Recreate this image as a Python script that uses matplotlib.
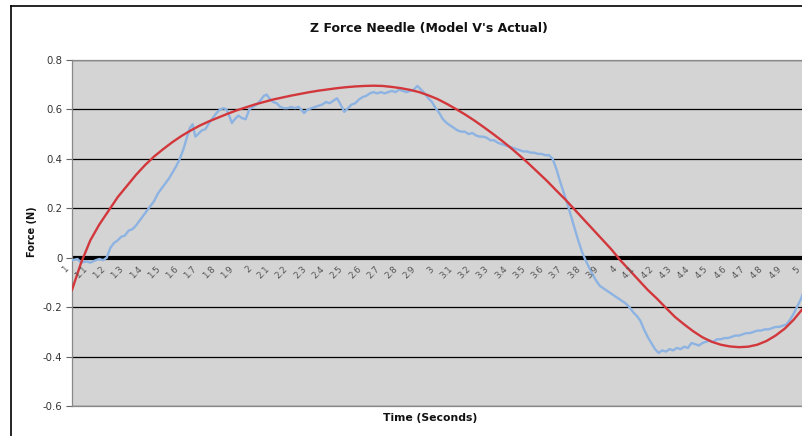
import matplotlib
matplotlib.use("Agg")
import matplotlib.pyplot as plt
from matplotlib.lines import Line2D

# ---------------- data ----------------
title = "Z Force Needle (Model V's Actual)"
x_label = "Time (Seconds)"
y_label = "Force (N)"

time_ticks = [1, 1.1, 1.2, 1.3, 1.4, 1.5, 1.6, 1.7, 1.8, 1.9, 2, 2.1, 2.2, 2.3, 2.4, 2.5,
              2.6, 2.7, 2.8, 2.9, 3, 3.1, 3.2, 3.3, 3.4, 3.5, 3.6, 3.7, 3.8, 3.9, 4, 4.1,
              4.2, 4.3, 4.4, 4.5, 4.6, 4.7, 4.8, 4.9, 5]
time_tick_labels = ["1", "1.1", "1.2", "1.3", "1.4", "1.5", "1.6", "1.7", "1.8", "1.9", "2",
                    "2.1", "2.2", "2.3", "2.4", "2.5", "2.6", "2.7", "2.8", "2.9", "3",
                    "3.1", "3.2", "3.3", "3.4", "3.5", "3.6", "3.7", "3.8", "3.9", "4",
                    "4.1", "4.2", "4.3", "4.4", "4.5", "4.6", "4.7", "4.8", "4.9", "5"]
force_ticks = [-0.6, -0.4, -0.2, 0, 0.2, 0.4, 0.6, 0.8]
force_tick_labels = ["-0.6", "-0.4", "-0.2", "0", "0.2", "0.4", "0.6", "0.8"]

# Model (red)
model_t = [1.00, 1.05, 1.10, 1.15, 1.20, 1.25, 1.30, 1.35, 1.40, 1.45, 1.50, 1.55, 1.60,
           1.65, 1.70, 1.75, 1.80, 1.85, 1.90, 1.95, 2.00, 2.05, 2.10, 2.15, 2.20, 2.25,
           2.30, 2.35, 2.40, 2.45, 2.50, 2.55, 2.60, 2.65, 2.70, 2.75, 2.80, 2.85, 2.90,
           2.95, 3.00, 3.05, 3.10, 3.15, 3.20, 3.25, 3.30, 3.35, 3.40, 3.45, 3.50, 3.55,
           3.60, 3.65, 3.70, 3.75, 3.80, 3.85, 3.90, 3.95, 4.00, 4.05, 4.10, 4.15, 4.20,
           4.25, 4.30, 4.35, 4.40, 4.45, 4.50, 4.55, 4.60, 4.65, 4.70, 4.75, 4.80, 4.85,
           4.90, 4.95, 5.00]
model_force = [-0.13, -0.02, 0.07, 0.135, 0.19, 0.245, 0.29, 0.335, 0.375, 0.41, 0.44,
               0.468, 0.493, 0.515, 0.535, 0.552, 0.567, 0.582, 0.596, 0.608, 0.62, 0.63,
               0.64, 0.648, 0.656, 0.663, 0.67, 0.676, 0.681, 0.686, 0.69, 0.693, 0.695,
               0.696, 0.695, 0.691, 0.686, 0.679, 0.67, 0.657, 0.642, 0.623, 0.602, 0.58,
               0.556, 0.53, 0.503, 0.475, 0.445, 0.413, 0.38, 0.345, 0.31, 0.272, 0.235,
               0.195, 0.155, 0.115, 0.075, 0.035, -0.01, -0.05, -0.09, -0.13, -0.165,
               -0.203, -0.24, -0.27, -0.298, -0.322, -0.34, -0.352, -0.359, -0.362, -0.36,
               -0.352, -0.337, -0.315, -0.287, -0.25, -0.205]

# Actual (blue)
actual_t = [1.00, 1.03, 1.05, 1.08, 1.10, 1.13, 1.15, 1.17, 1.19, 1.21, 1.23, 1.25, 1.27,
            1.29, 1.31, 1.33, 1.35, 1.37, 1.39, 1.41, 1.43, 1.45, 1.47, 1.49, 1.51, 1.53,
            1.55, 1.57, 1.59, 1.61, 1.63, 1.645, 1.66, 1.675, 1.69, 1.71, 1.73, 1.75, 1.77,
            1.79, 1.81, 1.83, 1.845, 1.86, 1.875, 1.89, 1.91, 1.93, 1.95, 1.97, 1.99, 2.01,
            2.03, 2.05, 2.065, 2.08, 2.10, 2.12, 2.14, 2.16, 2.18, 2.20, 2.22, 2.24, 2.26,
            2.27, 2.29, 2.31, 2.33, 2.35, 2.37, 2.39, 2.41, 2.43, 2.45, 2.47, 2.49, 2.51,
            2.53, 2.55, 2.57, 2.59, 2.61, 2.63, 2.65, 2.67, 2.69, 2.71, 2.73, 2.75, 2.77,
            2.79, 2.81, 2.83, 2.85, 2.87, 2.89, 2.91, 2.93, 2.95, 2.97, 2.99, 3.01, 3.03,
            3.05, 3.07, 3.09, 3.11, 3.13, 3.15, 3.17, 3.19, 3.21, 3.23, 3.25, 3.27, 3.29,
            3.31, 3.33, 3.35, 3.37, 3.39, 3.41, 3.43, 3.45, 3.47, 3.49, 3.51, 3.53, 3.55,
            3.57, 3.59, 3.61, 3.63, 3.65, 3.67, 3.69, 3.71, 3.73, 3.75, 3.77, 3.79, 3.81,
            3.83, 3.85, 3.87, 3.89, 3.91, 3.93, 3.95, 3.97, 3.99, 4.01, 4.03, 4.05, 4.07,
            4.09, 4.11, 4.13, 4.15, 4.17, 4.19, 4.21, 4.23, 4.25, 4.27, 4.29, 4.31, 4.33,
            4.35, 4.37, 4.39, 4.41, 4.43, 4.45, 4.47, 4.49, 4.51, 4.53, 4.55, 4.57, 4.59,
            4.61, 4.63, 4.65, 4.67, 4.69, 4.71, 4.73, 4.75, 4.77, 4.79, 4.81, 4.83, 4.85,
            4.87, 4.89, 4.91, 4.93, 4.95, 4.97, 4.99, 5.00]
actual_force = [-0.01, -0.005, -0.02, -0.015, -0.02, -0.01, -0.005, -0.01, 0.0, 0.04, 0.06,
                0.07, 0.085, 0.09, 0.11, 0.115, 0.13, 0.15, 0.17, 0.19, 0.21, 0.23, 0.26,
                0.28, 0.30, 0.32, 0.345, 0.37, 0.40, 0.44, 0.49, 0.525, 0.54, 0.49, 0.50,
                0.515, 0.52, 0.545, 0.565, 0.585, 0.60, 0.605, 0.60, 0.575, 0.545, 0.56,
                0.575, 0.565, 0.56, 0.60, 0.61, 0.62, 0.635, 0.655, 0.66, 0.645, 0.63,
                0.625, 0.61, 0.605, 0.605, 0.61, 0.605, 0.61, 0.595, 0.585, 0.60, 0.605,
                0.61, 0.615, 0.62, 0.63, 0.625, 0.635, 0.645, 0.62, 0.59, 0.605, 0.62,
                0.625, 0.64, 0.65, 0.655, 0.665, 0.67, 0.665, 0.67, 0.665, 0.67, 0.675,
                0.67, 0.68, 0.675, 0.67, 0.675, 0.68, 0.695, 0.68, 0.665, 0.645, 0.63,
                0.605, 0.585, 0.56, 0.545, 0.535, 0.525, 0.515, 0.51, 0.51, 0.50, 0.505,
                0.495, 0.49, 0.49, 0.485, 0.475, 0.475, 0.465, 0.46, 0.455, 0.45, 0.445,
                0.44, 0.435, 0.43, 0.43, 0.425, 0.425, 0.42, 0.42, 0.415, 0.415, 0.40,
                0.36, 0.31, 0.265, 0.22, 0.17, 0.12, 0.07, 0.025, -0.01, -0.04, -0.07,
                -0.095, -0.115, -0.125, -0.135, -0.145, -0.155, -0.165, -0.175, -0.185,
                -0.20, -0.22, -0.235, -0.255, -0.29, -0.32, -0.345, -0.37, -0.385, -0.375,
                -0.38, -0.37, -0.375, -0.365, -0.37, -0.36, -0.365, -0.345, -0.35, -0.355,
                -0.345, -0.34, -0.335, -0.34, -0.33, -0.33, -0.325, -0.325, -0.32, -0.315,
                -0.315, -0.31, -0.305, -0.305, -0.30, -0.295, -0.295, -0.29, -0.29, -0.285,
                -0.28, -0.28, -0.275, -0.27, -0.25, -0.225, -0.195, -0.165, -0.145]

# ---------------- figure ----------------
W, H = 803, 436
fig = plt.figure(figsize=(W / 100, H / 100), dpi=100)
fig.patch.set_facecolor("white")

# outer chart frame (partly cropped in the original)
fig.add_artist(Line2D([11 / W, 1.0], [1 - 6 / H, 1 - 6 / H], color="black", lw=1.2))
fig.add_artist(Line2D([11 / W, 11 / W], [0, 1 - 6 / H], color="black", lw=1.2))

left, right, top, bottom = 72, 803, 60, 406
ax = fig.add_axes([left / W, 1 - bottom / H, (right - left) / W, (bottom - top) / H])
ax.set_facecolor("#d4d4d4")

ax.set_xlim(1.0, 5.0)
ax.set_ylim(-0.6, 0.8)

for y in force_ticks:
    if y == 0:
        continue
    ax.axhline(y, color="black", lw=0.9, zorder=1)
ax.axhline(0, color="black", lw=3.0, zorder=2)

ax.plot(actual_t, actual_force, color="#8db3e2", lw=1.7, zorder=3)
ax.plot(model_t, model_force, color="#d2373c", lw=1.7, zorder=4)

ax.set_yticks(force_ticks)
ax.set_yticklabels(force_tick_labels, fontsize=7.3, color="#333333")
ax.tick_params(axis="y", direction="out", length=4, width=0.8, color="#666666", pad=3)
ax.set_xticks([])

for s in ["top", "left", "bottom"]:
    ax.spines[s].set_color("#888888")
    ax.spines[s].set_linewidth(0.9)
ax.spines["right"].set_visible(False)

# category-style labels just below the zero line
for t, lab in zip(time_ticks, time_tick_labels):
    ax.annotate(lab, xy=(t, 0), xytext=(-1, -5), textcoords="offset points",
                rotation=45, ha="right", va="top", fontsize=6.3, color="#555555",
                annotation_clip=False, zorder=5)

fig.text(429 / W, 1 - 28 / H, title, ha="center", va="center",
         fontsize=9, fontweight="bold", color="#111111")
fig.text(430 / W, 1 - 418 / H, x_label, ha="center", va="center",
         fontsize=7.8, fontweight="bold", color="#111111")
fig.text(32 / W, 1 - 232 / H, y_label, ha="center", va="center", rotation=90,
         fontsize=7, fontweight="bold", color="#111111")

fig.savefig("out.png", dpi=100)
